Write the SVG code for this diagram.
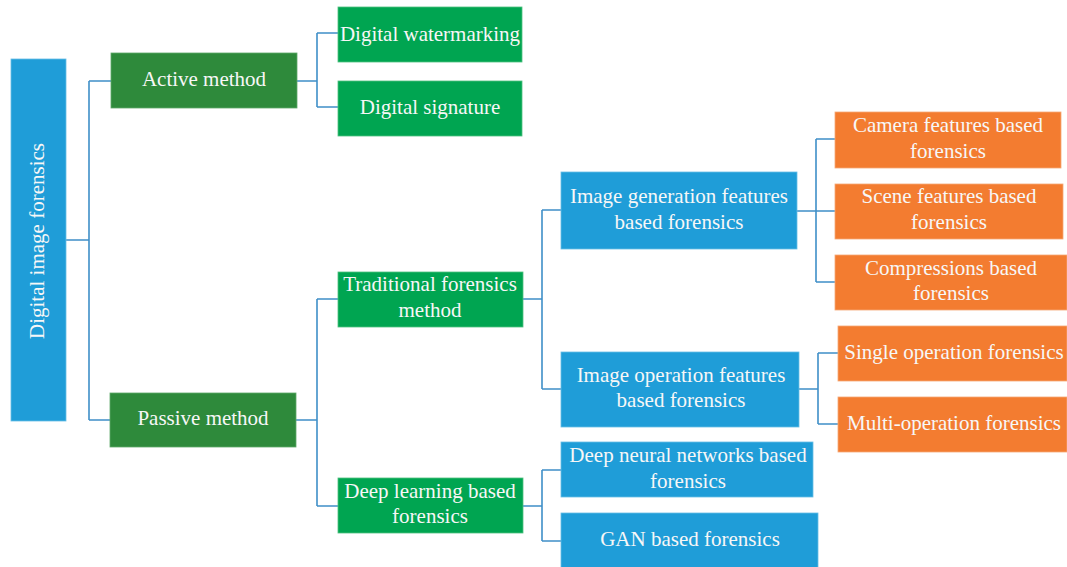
<svg xmlns="http://www.w3.org/2000/svg" width="1067" height="567" viewBox="0 0 1067 567">
<style>
text{font-family:"Liberation Serif","Times New Roman",serif;font-size:21px;fill:#f7f7f7;text-anchor:middle}
.dg{fill:#2e8a3b;stroke:#5fa86a;stroke-width:0.8}
.bg{fill:#00a551;stroke:#4fc07f;stroke-width:0.8}
.bl{fill:#1f9dd8;stroke:#68bde6;stroke-width:0.8}
.or{fill:#f37c30;stroke:#f6a877;stroke-width:0.8}
.c{fill:none;stroke:#3f8fc8;stroke-width:1.6}
</style>
<rect width="1067" height="567" fill="#fff"/>
<g id="connectors">
<path class="c" d="M66,240 H89 M89,81 V420 M89,81 H111 M89,420 H110"/>
<path class="c" d="M297,81 H317 M317,33 V107 M317,33 H338 M317,107 H338"/>
<path class="c" d="M296,420 H317 M317,299 V506 M317,299 H338 M317,506 H338"/>
<path class="c" d="M523,299 H542 M542,210 V389 M542,210 H561 M542,389 H561"/>
<path class="c" d="M523,506 H542 M542,470 V541 M542,470 H561 M542,541 H561"/>
<path class="c" d="M797,211 H816 M816,139 V282 M816,139 H835 M816,211 H835 M816,282 H835"/>
<path class="c" d="M799,389 H818 M818,353 V424 M818,353 H838 M818,424 H838"/>
</g>
<g id="root"><rect class="bl" x="11" y="59" width="55" height="362"/><text transform="translate(44,241) rotate(-90)">Digital image forensics</text></g>
<g id="active"><rect class="dg" x="111" y="53" width="186" height="55"/><text x="204" y="86">Active method</text></g>
<g id="passive"><rect class="dg" x="110" y="393" width="186" height="54"/><text x="203" y="425">Passive method</text></g>
<g id="watermarking"><rect class="bg" x="338" y="7" width="184" height="55"/><text x="430" y="41">Digital watermarking</text></g>
<g id="signature"><rect class="bg" x="338" y="81" width="184" height="55"/><text x="430" y="114">Digital signature</text></g>
<g id="traditional"><rect class="bg" x="338" y="272" width="185" height="55"/><text x="430" y="291">Traditional forensics</text><text x="430" y="317">method</text></g>
<g id="deeplearning"><rect class="bg" x="338" y="478" width="185" height="55"/><text x="430" y="498">Deep learning based</text><text x="430" y="523">forensics</text></g>
<g id="imggen"><rect class="bl" x="561" y="172" width="236" height="77"/><text x="679" y="203">Image generation features</text><text x="679" y="229">based forensics</text></g>
<g id="imgop"><rect class="bl" x="561" y="352" width="238" height="75"/><text x="681" y="382">Image operation features</text><text x="681" y="407">based forensics</text></g>
<g id="dnn"><rect class="bl" x="561" y="442" width="252" height="55"/><text x="688" y="462">Deep neural networks based</text><text x="688" y="488">forensics</text></g>
<g id="gan"><rect class="bl" x="561" y="513" width="257" height="56"/><text x="690" y="546">GAN based forensics</text></g>
<g id="camera"><rect class="or" x="835" y="112" width="226" height="56"/><text x="948" y="132">Camera features based</text><text x="948" y="158">forensics</text></g>
<g id="scene"><rect class="or" x="835" y="184" width="228" height="55"/><text x="949" y="203">Scene features based</text><text x="949" y="229">forensics</text></g>
<g id="compressions"><rect class="or" x="835" y="255" width="232" height="55"/><text x="951" y="275">Compressions based</text><text x="951" y="300">forensics</text></g>
<g id="single"><rect class="or" x="838" y="326" width="229" height="55"/><text x="954" y="359">Single operation forensics</text></g>
<g id="multi"><rect class="or" x="838" y="397" width="229" height="55"/><text x="954" y="430">Multi-operation forensics</text></g>
</svg>
